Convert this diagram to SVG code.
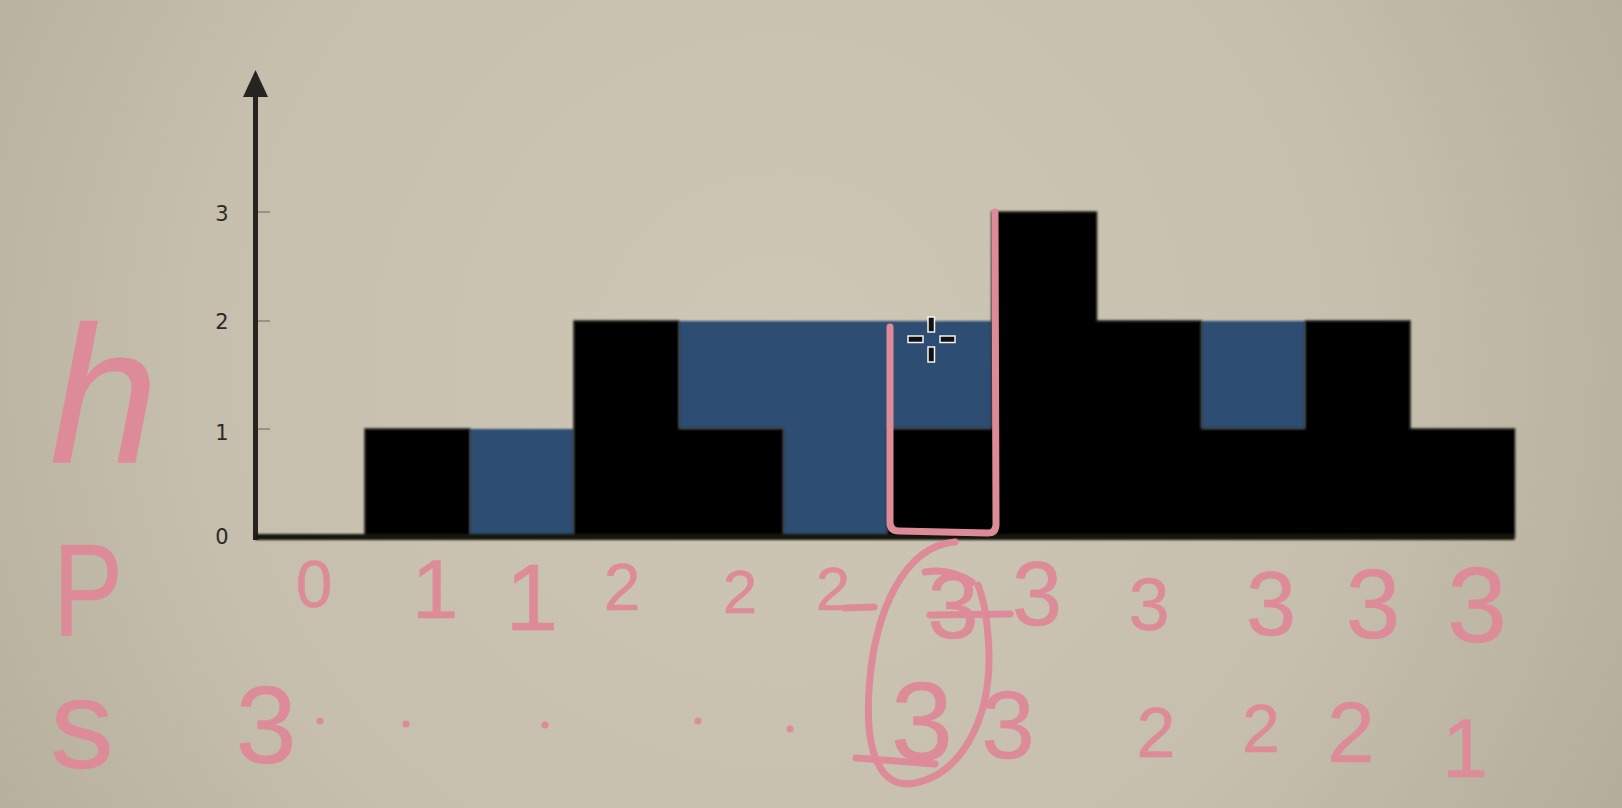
<svg xmlns="http://www.w3.org/2000/svg" width="1622" height="808" viewBox="0 0 1622 808">
<defs>
<radialGradient id="bg" cx="780" cy="360" r="980" gradientUnits="userSpaceOnUse">
<stop offset="0" stop-color="#cec7b5"/>
<stop offset="0.6" stop-color="#c6bfad"/>
<stop offset="1" stop-color="#b3ac99"/>
</radialGradient>
<filter id="soft" x="-5%" y="-5%" width="110%" height="110%"><feGaussianBlur stdDeviation="1.2"/></filter>
</defs>
<style>
.ink{fill:#dd8b98;font-family:"Liberation Sans","DejaVu Sans",sans-serif;text-anchor:middle;stroke:#dd8b98;stroke-width:0.5;stroke-linejoin:round}
.pen{fill:none;stroke:#dd8b98;stroke-width:7;stroke-linecap:round;stroke-linejoin:round}
.dot{fill:#dd8b98}
.tick{font-family:"DejaVu Sans","Liberation Sans",sans-serif;font-size:21px;fill:#2c2a26;text-anchor:middle}
.tk{stroke:#8a857a;stroke-width:1.5}
.cur{fill:#111;stroke:#f4f4f4;stroke-width:1.5}
</style>
<rect x="0" y="0" width="1622" height="808" fill="url(#bg)"/>

<g id="axes">
<line x1="255.5" y1="92" x2="255.5" y2="540" stroke="#262420" stroke-width="5"/>
<polygon points="255.5,70 243,97 268,97" fill="#262420"/>
<line class="tk" x1="258" y1="212" x2="270" y2="212"/>
<line class="tk" x1="258" y1="321" x2="270" y2="321"/>
<line class="tk" x1="258" y1="429" x2="270" y2="429"/>
<text class="tick" x="222" y="221">3</text>
<text class="tick" x="222" y="329">2</text>
<text class="tick" x="222" y="440">1</text>
<text class="tick" x="222" y="544">0</text>
</g>

<g id="water" filter="url(#soft)">
<rect x="469.5" y="429" width="104.5" height="108" fill="#2d4e73"/>
<polygon points="678.5,321 992,321 992,429 887.5,429 887.5,537 783,537 783,429 678.5,429" fill="#2d4e73"/>
<rect x="1201" y="321" width="104.5" height="108" fill="#2d4e73"/>
</g>

<g id="bars" filter="url(#soft)">
<path d="M365 537 V429 H469.5 V537 H574 V321 H678.5 V429 H783 V537 H887.5 V429 H992 V212 H1096.5 V321 H1201 V429 H1305.5 V321 H1410 V429 H1514.5 V537 Z" fill="#050505" stroke="#1e1b18" stroke-width="1.5"/>
<rect x="255.5" y="534" width="1259" height="6" fill="#141210"/>
</g>

<g id="labels">
<text class="ink" x="104" y="462" font-size="195" font-style="italic">h</text>
<text class="ink" x="88" y="635" font-size="132" textLength="70" lengthAdjust="spacingAndGlyphs">P</text>
<text class="ink" x="82" y="768" font-size="127">s</text>
</g>

<g id="row-p">
<text class="ink" x="314" y="607" font-size="66">0</text>
<text class="ink" x="435" y="618" font-size="84">1</text>
<text class="ink" x="532" y="630" font-size="95">1</text>
<text class="ink" x="622" y="610" font-size="66">2</text>
<text class="ink" x="740" y="613" font-size="62">2</text>
<text class="ink" x="833" y="610" font-size="62">2</text>
<text class="ink" x="953" y="638" font-size="92">3</text>
<text class="ink" x="1037" y="625" font-size="90">3</text>
<text class="ink" x="1149" y="630" font-size="74">3</text>
<text class="ink" x="1271" y="635" font-size="90">3</text>
<text class="ink" x="1373" y="638" font-size="98">3</text>
<text class="ink" x="1477" y="642" font-size="108">3</text>
</g>

<g id="row-s">
<text class="ink" x="266" y="763" font-size="110">3</text>
<circle class="dot" cx="320" cy="721" r="3.5"/>
<circle class="dot" cx="406" cy="724" r="3.5"/>
<circle class="dot" cx="545" cy="725" r="3.5"/>
<circle class="dot" cx="698" cy="721" r="3.5"/>
<circle class="dot" cx="790" cy="729" r="3.5"/>
<text class="ink" x="922" y="760" font-size="112">3</text>
<circle class="dot" cx="933" cy="725" r="3.5"/>
<text class="ink" x="1008" y="758" font-size="96">3</text>
<text class="ink" x="1156" y="757" font-size="70">2</text>
<text class="ink" x="1261" y="752" font-size="68">2</text>
<text class="ink" x="1351" y="762" font-size="86">2</text>
<text class="ink" x="1465" y="777" font-size="83">1</text>
</g>

<g id="connectors">
<path class="pen" d="M890 327 L890 522 Q890 531 899 531 L988 533 Q996 533 996 524 L995 212"/>
<path class="pen" d="M955 542 C905 546 874 610 869 690 C865 752 880 790 915 783 C960 774 990 722 989 655 C988 615 982 595 978 585"/>
<path class="pen" d="M856 758 L935 764"/>
<path class="pen" d="M845 608 L874 607"/>
<path class="pen" d="M930 615 L1010 614"/>
<path class="pen" d="M925 572 Q950 568 972 582"/>
</g>

<g id="cursor">
<rect class="cur" x="928" y="317" width="6.5" height="15"/>
<rect class="cur" x="928" y="347" width="6.5" height="15"/>
<rect class="cur" x="908" y="336" width="15" height="6.5"/>
<rect class="cur" x="940" y="336" width="15" height="6.5"/>
</g>
</svg>
